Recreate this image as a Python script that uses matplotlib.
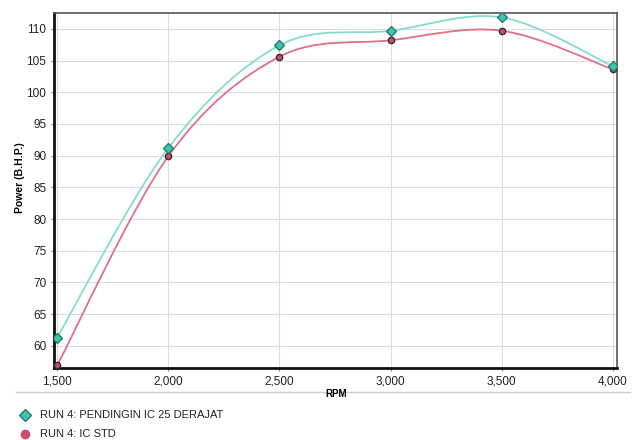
import matplotlib.pyplot as plt
import numpy as np
from matplotlib.path import Path
from matplotlib.patches import PathPatch
from matplotlib.lines import Line2D
from matplotlib.ticker import FuncFormatter

plt.rcParams['font.family'] = ['Liberation Sans', 'DejaVu Sans']

# data
rpm = [1500, 2000, 2500, 3000, 3500, 4000]
power_25 = [61.3, 91.2, 107.4, 109.7, 111.8, 104.1]
power_std = [56.9, 89.9, 105.6, 108.2, 109.7, 103.6]
label_25 = 'RUN 4: PENDINGIN IC 25 DERAJAT'
label_std = 'RUN 4: IC STD'

cyan_line = '#86dbd0'
cyan_face = '#3fc4b4'
red_line = '#e2708a'
red_face = '#c8506e'
edge = '#3a2a30'


def smooth_path(x, y):
	# catmull-rom curve through the points, drawn as bezier segments
	x = np.asarray(x, float)
	y = np.asarray(y, float)
	pts = np.column_stack([x, y])
	verts = [pts[0]]
	codes = [Path.MOVETO]
	n = len(pts)
	for i in range(n - 1):
		p0 = pts[max(i - 1, 0)]
		p1 = pts[i]
		p2 = pts[i + 1]
		p3 = pts[min(i + 2, n - 1)]
		c1 = p1 + (p2 - p0) / 6.0
		c2 = p2 - (p3 - p1) / 6.0
		verts += [c1, c2, p2]
		codes += [Path.CURVE4] * 3
	return Path(verts, codes)


fig = plt.figure(figsize=(6.33, 4.4), dpi=100)
ax = fig.add_axes([54 / 633, 1 - 368 / 440, (617 - 54) / 633, (368 - 13) / 440])

ax.add_patch(PathPatch(smooth_path(rpm, power_std), fill=False, edgecolor=red_line, lw=1.3, zorder=3))
ax.add_patch(PathPatch(smooth_path(rpm, power_25), fill=False, edgecolor=cyan_line, lw=1.3, zorder=3))
ax.plot(rpm, power_std, 'o', ms=4.5, mfc=red_face, mec=edge, mew=1, ls='none', zorder=4)
ax.plot(rpm, power_25, 'D', ms=5.5, mfc=cyan_face, mec='#2a7a70', mew=1, ls='none', zorder=5)

ax.set_xlim(1486, 4018)
ax.set_ylim(56.5, 112.5)
ax.set_xticks(rpm)
ax.set_yticks(np.arange(60, 111, 5))
ax.xaxis.set_major_formatter(FuncFormatter(lambda v, p: '{:,}'.format(int(v))))
ax.grid(True, color='#dddddd', lw=0.8)
ax.set_axisbelow(True)
ax.tick_params(labelsize=8.5, length=2, color='#888888', colors='#222222')

for s in ['left', 'bottom']:
	ax.spines[s].set_linewidth(2)
	ax.spines[s].set_color('#111111')
for s in ['top', 'right']:
	ax.spines[s].set_linewidth(1.2)
	ax.spines[s].set_color('#555555')

ax.set_ylabel('Power (B.H.P.)', fontsize=7.5, fontweight='bold')
ax.yaxis.set_label_coords(-0.052, 0.535)
fig.text(336 / 633, 1 - 394 / 440, 'RPM', fontsize=7, fontweight='bold', ha='center', va='center')

# separator line under the plot
fig.add_artist(Line2D([16 / 633, 630 / 633], [1 - 392 / 440] * 2, color='#cccccc', lw=1))

# legend below
fig.add_artist(Line2D([25 / 633], [1 - 415 / 440], marker='D', ms=6, mfc=cyan_face, mec='#2a7a70', ls='none'))
fig.add_artist(Line2D([25 / 633], [1 - 434 / 440], marker='o', ms=6, mfc=red_face, mec=red_face, ls='none'))
fig.text(40 / 633, 1 - 415 / 440, label_25, fontsize=8, va='center', color='#222222')
fig.text(40 / 633, 1 - 434 / 440, label_std, fontsize=8, va='center', color='#222222')

fig.savefig('out.png', dpi=100)
